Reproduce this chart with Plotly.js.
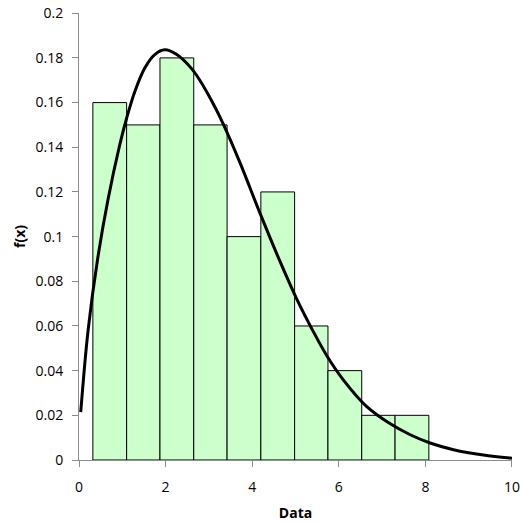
<!DOCTYPE html>
<html>
<head>
<meta charset="utf-8">
<script src="https://cdn.plot.ly/plotly-3.0.1.min.js"></script>
<style>
  html, body { margin: 0; padding: 0; background: #fff; }
  #chart { width: 520px; height: 522px; }
</style>
</head>
<body>
<div id="chart"></div>
<script>
// Histogram bins: left edges (last value closes the final bin) and relative frequencies
const binEdges = [0.32, 1.10, 1.87, 2.65, 3.42, 4.20, 4.98, 5.75, 6.53, 7.30, 8.08];
const binFreq  = [0.16, 0.15, 0.18, 0.15, 0.10, 0.12, 0.06, 0.04, 0.02, 0.02];

// Fitted density curve, sampled points
const curveX = [0.04, 0.21, 0.43, 0.67, 0.94, 1.10, 1.29, 1.52, 1.75, 1.98, 2.25, 2.60, 2.79,
                3.10, 3.33, 3.72, 4.18, 4.64, 5.03, 5.37, 5.72, 6.10, 6.64, 7.18, 7.65,
                8.11, 8.65, 9.34, 10.0];
const curveY = [0.0214, 0.058, 0.090, 0.1166, 0.141, 0.153, 0.165, 0.1755, 0.1815, 0.1836,
                0.1816, 0.1752, 0.170, 0.1595, 0.1505, 0.133, 0.1105, 0.089, 0.072, 0.059,
                0.0468, 0.036, 0.024, 0.0163, 0.0113, 0.0076, 0.0046, 0.0022, 0.0008];

// Axis ticks
const xTicks = [0, 2, 4, 6, 8, 10];
const xTickText = ['0', '2', '4', '6', '8', '10'];
const yTicks = [0, 0.02, 0.04, 0.06, 0.08, 0.1, 0.12, 0.14, 0.16, 0.18, 0.2];
const yTickText = ['0', '0.02', '0.04', '0.06', '0.08', '0.1', '0.12', '0.14', '0.16', '0.18', '0.2'];

const barLeft = binEdges.slice(0, -1);
const barWidth = barLeft.map((e, i) => binEdges[i + 1] - e);

const FONT = 'Open Sans, Liberation Sans, sans-serif';

const traces = [
  {
    type: 'bar',
    x: barLeft,
    y: binFreq,
    width: barWidth,
    offset: 0,
    marker: { color: '#ccffcc', line: { color: '#000000', width: 1 } },
    hoverinfo: 'x+y'
  },
  {
    type: 'scatter',
    mode: 'lines',
    x: curveX,
    y: curveY,
    line: { color: '#000000', width: 3, shape: 'spline', smoothing: 1 },
    hoverinfo: 'x+y'
  }
];

const layout = {
  width: 520,
  height: 522,
  margin: { l: 79, r: 8, t: 13, b: 62 },
  paper_bgcolor: '#ffffff',
  plot_bgcolor: '#ffffff',
  showlegend: false,
  bargap: 0,
  font: { family: FONT, size: 13, color: '#000' },
  xaxis: {
    range: [0, 10.0005],
    tickmode: 'array',
    tickvals: xTicks,
    ticktext: xTickText,
    showgrid: false,
    zeroline: false,
    showline: true,
    linecolor: '#8c8c8c',
    linewidth: 1,
    ticks: 'outside',
    ticklen: 6,
    tickcolor: '#8c8c8c',
    ticklabelstandoff: 8,
    ticklabeloverflow: 'allow',
    tickfont: { family: FONT, size: 14, color: '#000' },
    title: { text: '<b>Data</b>', font: { family: FONT, size: 14, color: '#000' }, standoff: 14 }
  },
  yaxis: {
    range: [0, 0.2001],
    tickmode: 'array',
    tickvals: yTicks,
    ticktext: yTickText,
    showgrid: false,
    zeroline: false,
    showline: true,
    linecolor: '#8c8c8c',
    linewidth: 1,
    ticks: 'outside',
    ticklen: 6,
    tickcolor: '#8c8c8c',
    ticklabelstandoff: 6,
    ticklabeloverflow: 'allow',
    tickfont: { family: FONT, size: 14, color: '#000' },
    title: { text: '<b>f(x)</b>', font: { family: FONT, size: 14, color: '#000' }, standoff: 6 }
  }
};

Plotly.newPlot('chart', traces, layout, { displayModeBar: false, staticPlot: true });
</script>
</body>
</html>
